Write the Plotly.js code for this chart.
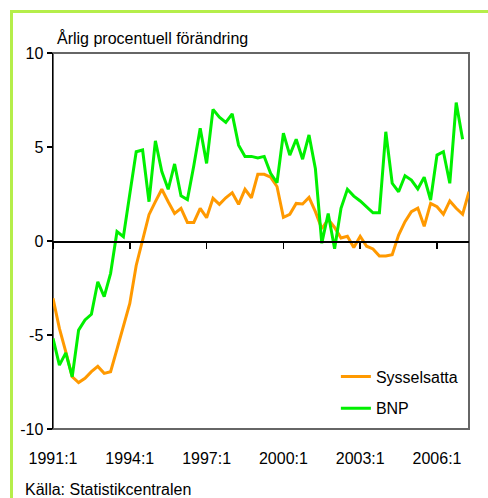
<!DOCTYPE html>
<html>
<head>
<meta charset="utf-8">
<script src="https://cdn.plot.ly/plotly-3.0.1.min.js"></script>
<style>
  body { margin: 0; background: #fff; }
  #wrap { position: relative; width: 488px; height: 498px; overflow: hidden; }
  #chart { position: absolute; left: 0; top: 0; width: 488px; height: 498px; }
  #frame {
    position: absolute; left: 10px; top: 10px; width: 600px; height: 600px;
    border-left: 3px solid #b5ee4a; border-top: 3px solid #b5ee4a;
    pointer-events: none;
  }
</style>
</head>
<body>
<div id="wrap">
  <div id="chart"></div>
  <div id="frame"></div>
</div>
<script>
// kvartal 1991:1 - 2007:2
var quarters = [];
for (var yr = 1991; yr <= 2007; yr++) {
    for (var q = 1; q <= 4; q++) {
        quarters.push(yr + ':' + q);
    }
}
quarters = quarters.slice(0, 66);

var tickLabels = ['1991:1', '1994:1', '1997:1', '2000:1', '2003:1', '2006:1'];
var yTickVals = [-10, -5, 0, 5, 10];
var yTickText = ['-10', '-5', '0', '5', '10'];

// Sysselsatta, årlig förändring i procent
var sysselsatta = [
    -3.05, -4.65, -5.9, -7.22, -7.53, -7.3, -6.95, -6.67, -7.04, -6.95,
    -5.75, -4.6, -3.32, -1.3, 0.05, 1.4, 2.09, 2.75, 2.09, 1.47,
    1.74, 0.99, 0.99, 1.74, 1.24, 2.27, 1.95, 2.3, 2.57, 1.95,
    2.75, 2.3, 3.55, 3.55, 3.4, 2.9, 1.26, 1.42, 2.0, 1.97,
    2.32, 1.56, 0.65, 1.15, 0.72, 0.16, 0.25, -0.35, 0.25, -0.28,
    -0.42, -0.8, -0.8, -0.73, 0.32, 1.03, 1.56, 1.75, 0.78, 2.0,
    1.82, 1.42, 2.13, 1.74, 1.42, 2.62
];

// BNP, årlig förändring i procent
var bnp = [
    -5.18, -6.6, -5.95, -7.22, -4.74, -4.2, -3.9, -2.17, -2.96, -1.72,
    0.5, 0.23, 2.5, 4.75, 4.84, 2.09, 5.33, 3.69, 2.75, 4.1,
    2.4, 2.2, 4.0, 6.0, 4.13, 7.0, 6.58, 6.31, 6.76, 5.1,
    4.5, 4.5, 4.42, 4.5, 3.6, 3.1, 5.73, 4.57, 5.41, 4.35,
    5.64, 3.84, -0.12, 1.46, -0.41, 1.74, 2.75, 2.39, 2.13, 1.82,
    1.5, 1.5, 5.81, 3.07, 2.62, 3.47, 3.24, 2.77, 3.39, 2.18,
    4.57, 4.75, 3.07, 7.36, 5.41
];

var fontFamily = '"Liberation Sans", Arial, sans-serif';

var data = [
    {
        x: quarters.slice(0, sysselsatta.length),
        y: sysselsatta,
        name: 'Sysselsatta',
        type: 'scatter',
        mode: 'lines',
        legendgroup: 'a',
        line: { color: '#ff9900', width: 3 }
    },
    {
        x: quarters.slice(0, bnp.length),
        y: bnp,
        name: 'BNP',
        type: 'scatter',
        mode: 'lines',
        legendgroup: 'b',
        xaxis: 'x2',
        line: { color: '#00f000', width: 3 }
    }
];

var layout = {
    width: 488,
    height: 498,
    margin: { l: 53, r: 19, t: 53, b: 69 },
    paper_bgcolor: 'rgba(0,0,0,0)',
    plot_bgcolor: '#fff',
    font: { family: fontFamily, size: 16, color: '#000' },
    title: {
        text: 'Årlig procentuell förändring',
        font: { family: fontFamily, size: 16, color: '#000' },
        xref: 'container', x: 57 / 488, xanchor: 'left',
        yref: 'container', y: 1 - 38 / 498, yanchor: 'middle'
    },
    showlegend: true,
    legend: {
        x: 0.68, xanchor: 'left',
        y: 0.097, yanchor: 'middle',
        bgcolor: 'rgba(0,0,0,0)',
        tracegroupgap: 8,
        font: { family: fontFamily, size: 16, color: '#000' }
    },
    xaxis: {
        type: 'category',
        range: [0, 65],
        showgrid: false,
        zeroline: false,
        showline: false,
        ticks: '',
        tickvals: tickLabels,
        ticktext: tickLabels,
        ticklabelstandoff: 18,
        tickfont: { family: fontFamily, size: 16, color: '#000' }
    },
    xaxis2: {
        type: 'category',
        overlaying: 'x',
        anchor: 'free',
        position: 0.5,
        range: [0, 65],
        showgrid: false,
        zeroline: false,
        showline: true,
        linecolor: '#000',
        linewidth: 1.5,
        ticks: 'outside',
        ticklen: 6,
        tickwidth: 1.5,
        tickcolor: '#000',
        tickvals: tickLabels,
        showticklabels: false
    },
    yaxis: {
        range: [-10, 10],
        tickvals: yTickVals,
        ticktext: yTickText,
        showgrid: false,
        zeroline: false,
        showline: true,
        linecolor: '#000',
        linewidth: 1.5,
        ticks: 'outside',
        ticklen: 5,
        tickwidth: 1.5,
        tickcolor: '#000',
        tickfont: { family: fontFamily, size: 16, color: '#000' }
    },
    shapes: [{
        type: 'rect', xref: 'paper', yref: 'paper',
        x0: 0, x1: 1, y0: 0, y1: 1,
        line: { color: '#666', width: 2 },
        layer: 'below'
    }],
    annotations: [{
        text: 'Källa: Statistikcentralen',
        xref: 'paper', yref: 'paper',
        x: (23 - 53) / 416, xanchor: 'left',
        y: (429 - 490) / 376, yanchor: 'middle',
        showarrow: false,
        font: { family: fontFamily, size: 16, color: '#000' }
    }]
};

Plotly.newPlot('chart', data, layout, { staticPlot: true, displayModeBar: false });
</script>
</body>
</html>
